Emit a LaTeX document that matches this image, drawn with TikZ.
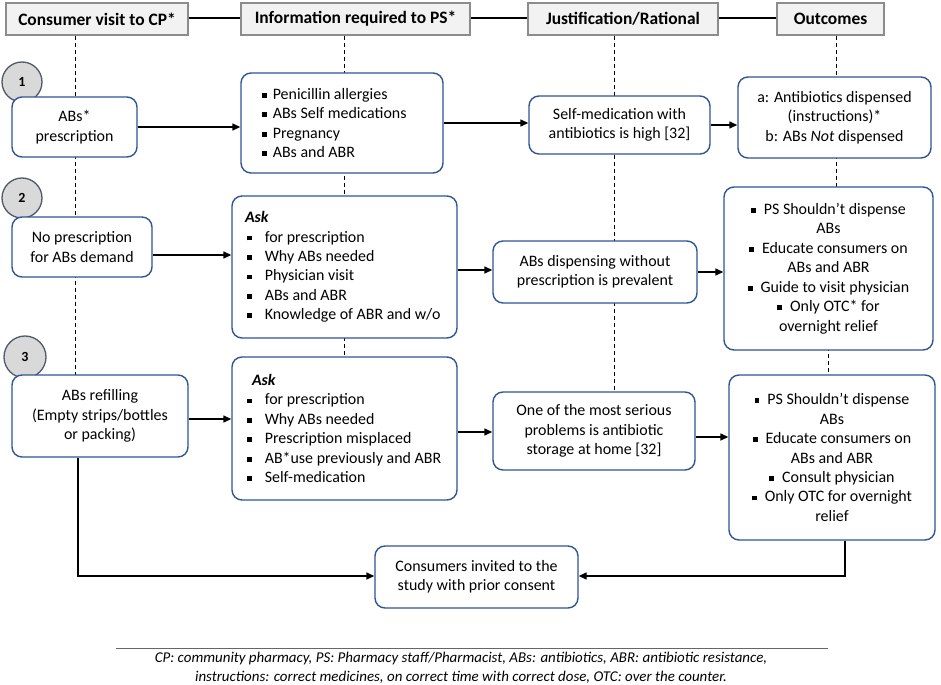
\documentclass[tikz,border=0pt]{standalone}
\usepackage{fontspec}
\setmainfont{Carlito}
\usepackage{tikz}
\usetikzlibrary{arrows.meta}

\definecolor{boxblue}{HTML}{2F5597}
\definecolor{hdgray}{HTML}{F2F2F2}
\definecolor{hdline}{HTML}{8C8C8C}
\definecolor{stepfill}{HTML}{D9D9D9}
\definecolor{stepline}{HTML}{505A6A}

\newcommand{\sqb}{\rule[0.1em]{0.3em}{0.3em}}
\newcommand{\outitem}{\sqb\hspace{8bp}}
\newcommand{\askitem}{\hspace*{8bp}\sqb\hspace{13bp}}

\tikzset{
    header/.style={draw=hdline, fill=hdgray, line width=1.2bp, inner sep=0pt,
        minimum height=32bp, font=\fontsize{17.5}{20}\selectfont\bfseries},
    stepnum/.style={circle, draw=stepline, fill=stepfill, line width=1.3bp,
        inner sep=0pt, font=\fontsize{14}{16}\selectfont\bfseries},
    box/.style={draw=boxblue, fill=white, rounded corners=10bp, line width=1.4bp,
        inner sep=0pt, align=center, font=\fontsize{16}{19.5}\selectfont},
    listbox/.style={box, align=flush left},
    arr/.style={line width=1.4bp, -{Triangle[length=8bp,width=7bp]}},
    guide/.style={line width=0.9bp, dash pattern=on 4bp off 3bp}
}

\begin{document}
\begin{tikzpicture}[x=1bp, y=-1bp]

\useasboundingbox (0,0) rectangle (941,685);

% column headers
\node [header, minimum width=182bp] (hd1) at (97,19)    {Consumer visit to CP*};
\node [header, minimum width=229bp] (hd2) at (355.5,19) {Information required to PS*};
\node [header, minimum width=190bp] (hd3) at (623,19)   {Justification/Rational};
\node [header, minimum width=107bp] (hd4) at (830.5,19) {Outcomes};

\draw [line width=1.3bp] (hd1.east |- 0,18) -- (hd2.west |- 0,18);
\draw [line width=1.3bp] (hd2.east |- 0,18) -- (hd3.west |- 0,18);
\draw [line width=1.3bp] (hd3.east |- 0,18) -- (hd4.west |- 0,18);

% dashed guides behind the boxes
\coordinate (g1) at (75,375);
\coordinate (g2) at (344,357);
\coordinate (g3) at (614,392);
\coordinate (g4) at (836,187);
\coordinate (g5) at (828,375);

\draw [guide] (hd1.south -| g1) -- (g1);
\draw [guide] (hd2.south -| g2) -- (g2);
\draw [guide] (hd3.south -| g3) -- (g3);
\draw [guide] (hd4.south -| g4) -- (g4);
\draw [guide] (828,340) -- (g5);

% step numbers
\node [stepnum, minimum size=40bp] (s1) at (22,82)  {1};
\node [stepnum, minimum size=40bp] (s2) at (22,198) {2};
\node [stepnum, minimum size=42bp] (s3) at (25,357) {3};

% consumer visit
\node [box, minimum width=125bp, minimum height=60bp] (vis1) at (74.5,127) {ABs*\\prescription};
\node [box, minimum width=140bp, minimum height=60bp] (vis2) at (82,247)   {No prescription\\for ABs demand};
\node [box, minimum width=176bp, minimum height=82bp] (vis3) at (100,416)  {ABs refilling\\(Empty strips/bottles\\or packing)};

% information required
\node [listbox, text width=160bp, inner xsep=21bp, minimum height=100bp] (inf1) at (342,123)
    {\sqb\hspace{6bp}Penicillin allergies\\
     \sqb\hspace{6bp}ABs Self medications\\
     \sqb\hspace{6bp}Pregnancy\\
     \sqb\hspace{6bp}ABs and ABR};
\node [listbox, text width=211bp, inner xsep=7bp, minimum height=142bp] (inf2) at (344.5,267)
    {\hspace*{6bp}\textbf{\textit{Ask}}\\
     \askitem for prescription\\
     \askitem Why ABs needed\\
     \askitem Physician visit\\
     \askitem ABs and ABR\\
     \askitem Knowledge of ABR and w/o};
\node [listbox, text width=211bp, inner xsep=7bp, minimum height=143bp] (inf3) at (344.5,428.5)
    {\hspace*{13bp}\textbf{\textit{Ask}}\\
     \askitem for prescription\\
     \askitem Why ABs needed\\
     \askitem Prescription misplaced\\
     \askitem AB*use previously and ABR\\
     \askitem Self-medication};

% justification
\node [box, minimum width=181bp, minimum height=58bp] (jus1) at (619.5,125) {Self-medication with\\antibiotics is high [32]};
\node [box, minimum width=204bp, minimum height=62bp] (jus2) at (595,272)   {ABs dispensing without\\prescription is prevalent};
\node [box, minimum width=202bp, minimum height=78bp] (jus3) at (594,431)   {One of the most serious\\problems is antibiotic\\storage at home [32]};

% outcomes
\node [box, minimum width=193bp, minimum height=81bp] (out1) at (834.5,117.5)
    {a: Antibiotics dispensed\\(instructions)*\\b: ABs \textit{Not} dispensed};
\node [box, minimum width=209bp, minimum height=163bp] (out2) at (828.5,268.5)
    {\outitem PS Shouldn't dispense\\ABs\\
     \outitem Educate consumers on\\ABs and ABR\\
     \outitem Guide to visit physician\\
     \outitem Only OTC* for\\overnight relief};
\node [box, minimum width=206bp, minimum height=165bp] (out3) at (832,457.5)
    {\outitem PS Shouldn't dispense\\ABs\\
     \outitem Educate consumers on\\ABs and ABR\\
     \outitem Consult physician\\
     \outitem Only OTC for overnight\\relief};

\node [box, minimum width=203bp, minimum height=62bp] (cons) at (476.5,577)
    {Consumers invited to the\\study with prior consent};

% connectors
\draw [arr] (vis1.east) -- (vis1.east -| inf1.west);
\draw [arr] (inf1.east) -- (inf1.east -| jus1.west);
\draw [arr] (jus1.east) -- (jus1.east -| out1.west);

\draw [arr] (vis2.east |- 0,255) -- (inf2.west |- 0,255);
\draw [arr] (inf2.east |- 0,270) -- (jus2.west |- 0,270);
\draw [arr] (jus2.east) -- (jus2.east -| out2.west);

\draw [arr] (vis3.east |- 0,419) -- (inf3.west |- 0,419);
\draw [arr] (inf3.east |- 0,432) -- (jus3.west |- 0,432);
\draw [arr] (jus3.east |- 0,437) -- (out3.west |- 0,437);

\draw [arr] (vis3.south -| 78,0) |- (cons.west |- 0,576);
\draw [arr] (out3.south -| 845,0) |- (cons.east |- 0,576);

% footnote
\draw [line width=1bp, black!60] (116,648) -- (828,648);
\node [align=center, font=\fontsize{15}{19}\selectfont\itshape] (note) at (461,667.5)
    {CP: community pharmacy, PS: Pharmacy staff/Pharmacist, ABs: antibiotics, ABR: antibiotic resistance,\\
     instructions: correct medicines, on correct time with correct dose, OTC: over the counter.};

\end{tikzpicture}
\end{document}
